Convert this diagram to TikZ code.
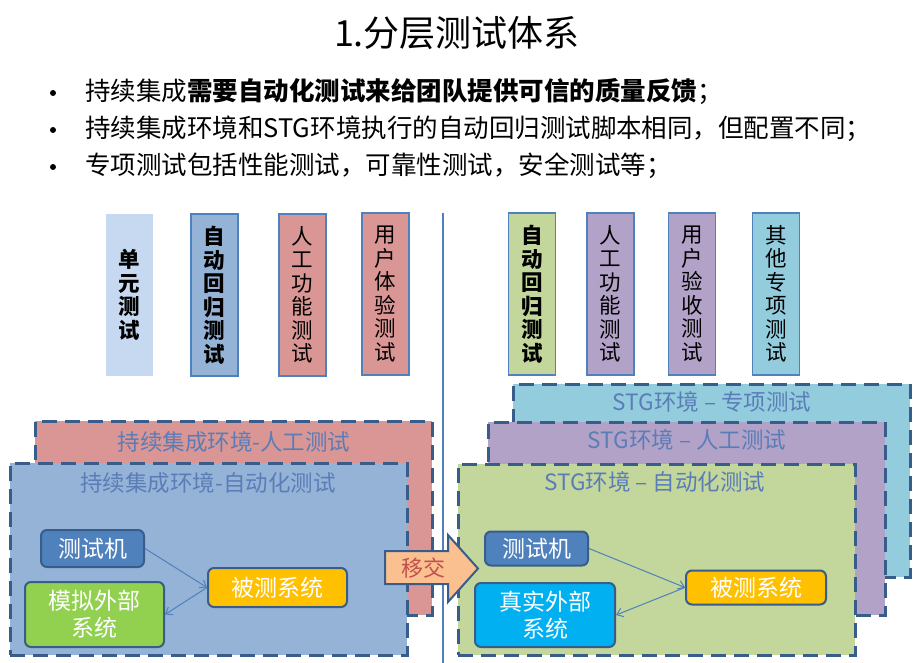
\documentclass[tikz,border=0pt]{standalone}
\usepackage{fontspec}
\setmainfont{Noto Sans CJK SC}
\usetikzlibrary{arrows.meta}
\definecolor{cLB}{HTML}{C6D9F1}
\definecolor{cBL}{HTML}{95B3D7}
\definecolor{cRD}{HTML}{D99694}
\definecolor{cGR}{HTML}{C3D69B}
\definecolor{cPU}{HTML}{B3A2C7}
\definecolor{cCY}{HTML}{93CDDD}
\definecolor{cDK}{HTML}{385D8A}
\definecolor{cMB}{HTML}{4F81BD}
\definecolor{cLG}{HTML}{92D050}
\definecolor{cOR}{HTML}{FFC000}
\definecolor{cSK}{HTML}{00B0F0}
\definecolor{cPE}{HTML}{FAC090}
\definecolor{cLT}{HTML}{5A7DB8}
\definecolor{cTR}{HTML}{C0504D}
\tikzset{
  vbox/.style={draw=cMB, line width=1.2pt, minimum width=47pt, minimum height=162pt, inner sep=0pt, align=center, font=\fontsize{21.5}{23.5}\selectfont},
  dbox/.style={draw=cDK, line width=3pt, dash pattern=on 15pt off 8pt, inner sep=0pt, minimum width=397pt},
  envlbl/.style={text=cLT, font=\fontsize{22.5}{24}\selectfont, inner sep=0pt},
  sbox/.style={draw=cDK, line width=2pt, rounded corners=6pt, text=white, align=center, inner sep=0pt, font=\fontsize{23}{27}\selectfont},
  conn/.style={draw=cMB, line width=1pt, -{Straight Barb[length=6pt,width=9pt]}},
  bul/.style={anchor=west, inner sep=0pt, font=\fontsize{25.5}{28}\selectfont},
  dot/.style={circle, fill=black, inner sep=0pt, minimum size=6pt},
}
\begin{document}
\begin{tikzpicture}[x=1pt,y=-1pt]
\useasboundingbox (0,0) rectangle (924,663);
% title
\node[inner sep=0pt, font=\fontsize{36}{40}\selectfont] (title) at (457,33) {1.分层测试体系};
% bullets
\node[dot] (b1) at (53,93) {};
\node[dot] (b2) at (53,130) {};
\node[dot] (b3) at (53,167) {};
\node[bul] (t1) at (85,92) {持续集成{\bfseries 需要自动化测试来给团队提供可信的质量反馈}；};
\node[bul] (t2) at (85,129) {持续集成环境和STG环境执行的自动回归测试脚本相同，但配置不同；};
\node[bul] (t3) at (85,166) {专项测试包括性能测试，可靠性测试，安全测试等；};
% divider
\coordinate (dtop) at (443,213);
\coordinate (dbot) at (443,663);
\draw[cMB, line width=1.5pt] (dtop) -- (dbot);
% vertical boxes left
\node[vbox, draw=none, fill=cLB] (v1) at (129,295) {\bfseries 单\\\bfseries 元\\\bfseries 测\\\bfseries 试};
\node[vbox, fill=cBL] (v2) at (214.5,295) {\bfseries 自\\\bfseries 动\\\bfseries 回\\\bfseries 归\\\bfseries 测\\\bfseries 试};
\node[vbox, fill=cRD] (v3) at (302.5,295) {人\\工\\功\\能\\测\\试};
\node[vbox, fill=cRD] (v4) at (385.5,294) {用\\户\\体\\验\\测\\试};
% vertical boxes right
\node[vbox, fill=cGR] (v5) at (532,294) {\bfseries 自\\\bfseries 动\\\bfseries 回\\\bfseries 归\\\bfseries 测\\\bfseries 试};
\node[vbox, fill=cPU] (v6) at (610.5,294) {人\\工\\功\\能\\测\\试};
\node[vbox, fill=cPU] (v7) at (692,294) {用\\户\\验\\收\\测\\试};
\node[vbox, fill=cCY] (v8) at (776,294) {其\\他\\专\\项\\测\\试};
% left environments
\node[dbox, fill=cRD, minimum height=194pt] (ciman) at (233.5,518) {};
\node[envlbl] (ciman-l) at (234,442) {持续集成环境-人工测试};
\node[dbox, fill=cBL, minimum height=192pt] (ciauto) at (208.5,559) {};
\node[envlbl] (ciauto-l) at (208,483) {持续集成环境-自动化测试};
\node[sbox, fill=cMB, minimum width=103pt, minimum height=37pt] (tmL) at (92.5,548.5) {测试机};
\node[sbox, fill=cLG, minimum width=139pt, minimum height=65pt] (simL) at (94.5,614.5) {模拟外部\\系统};
\node[sbox, fill=cOR, minimum width=139pt, minimum height=39pt] (sutL) at (277.5,587.5) {被测系统};
\draw[conn] (tmL.east) -- (sutL.west);
\draw[conn] (sutL.west) -- (simL.east);
% right environments
\node[dbox, fill=cCY, minimum height=193pt] (stgspec) at (711.5,480.5) {};
\node[envlbl] (stgspec-l) at (712,402) {STG环境 – 专项测试};
\node[dbox, fill=cPU, minimum height=193pt] (stgman) at (686.5,518.5) {};
\node[envlbl] (stgman-l) at (687,440) {STG环境 – 人工测试};
\node[dbox, fill=cGR, minimum height=191pt] (stgauto) at (656.5,559.5) {};
\node[envlbl] (stgauto-l) at (655,482) {STG环境 – 自动化测试};
\node[sbox, fill=cMB, minimum width=103pt, minimum height=34pt] (tmR) at (536.5,548.5) {测试机};
\node[sbox, fill=cSK, minimum width=140pt, minimum height=64pt] (realR) at (545,615) {真实外部\\系统};
\node[sbox, fill=cOR, minimum width=140pt, minimum height=34pt] (sutR) at (756,587.5) {被测系统};
\draw[conn] (tmR.east) -- (sutR.west);
\draw[conn] (sutR.west) -- (realR.east);
% hand-over arrow
\draw[fill=cPE, draw=cDK, line width=2pt, line join=miter] (385,551) -- (448,551) -- (448,535) -- (478,568.5) -- (448,602) -- (448,584) -- (385,584) -- cycle;
\node[text=cTR, inner sep=0pt, font=\fontsize{22}{24}\selectfont] (handover) at (423,568) {移交};
\end{tikzpicture}
\end{document}
